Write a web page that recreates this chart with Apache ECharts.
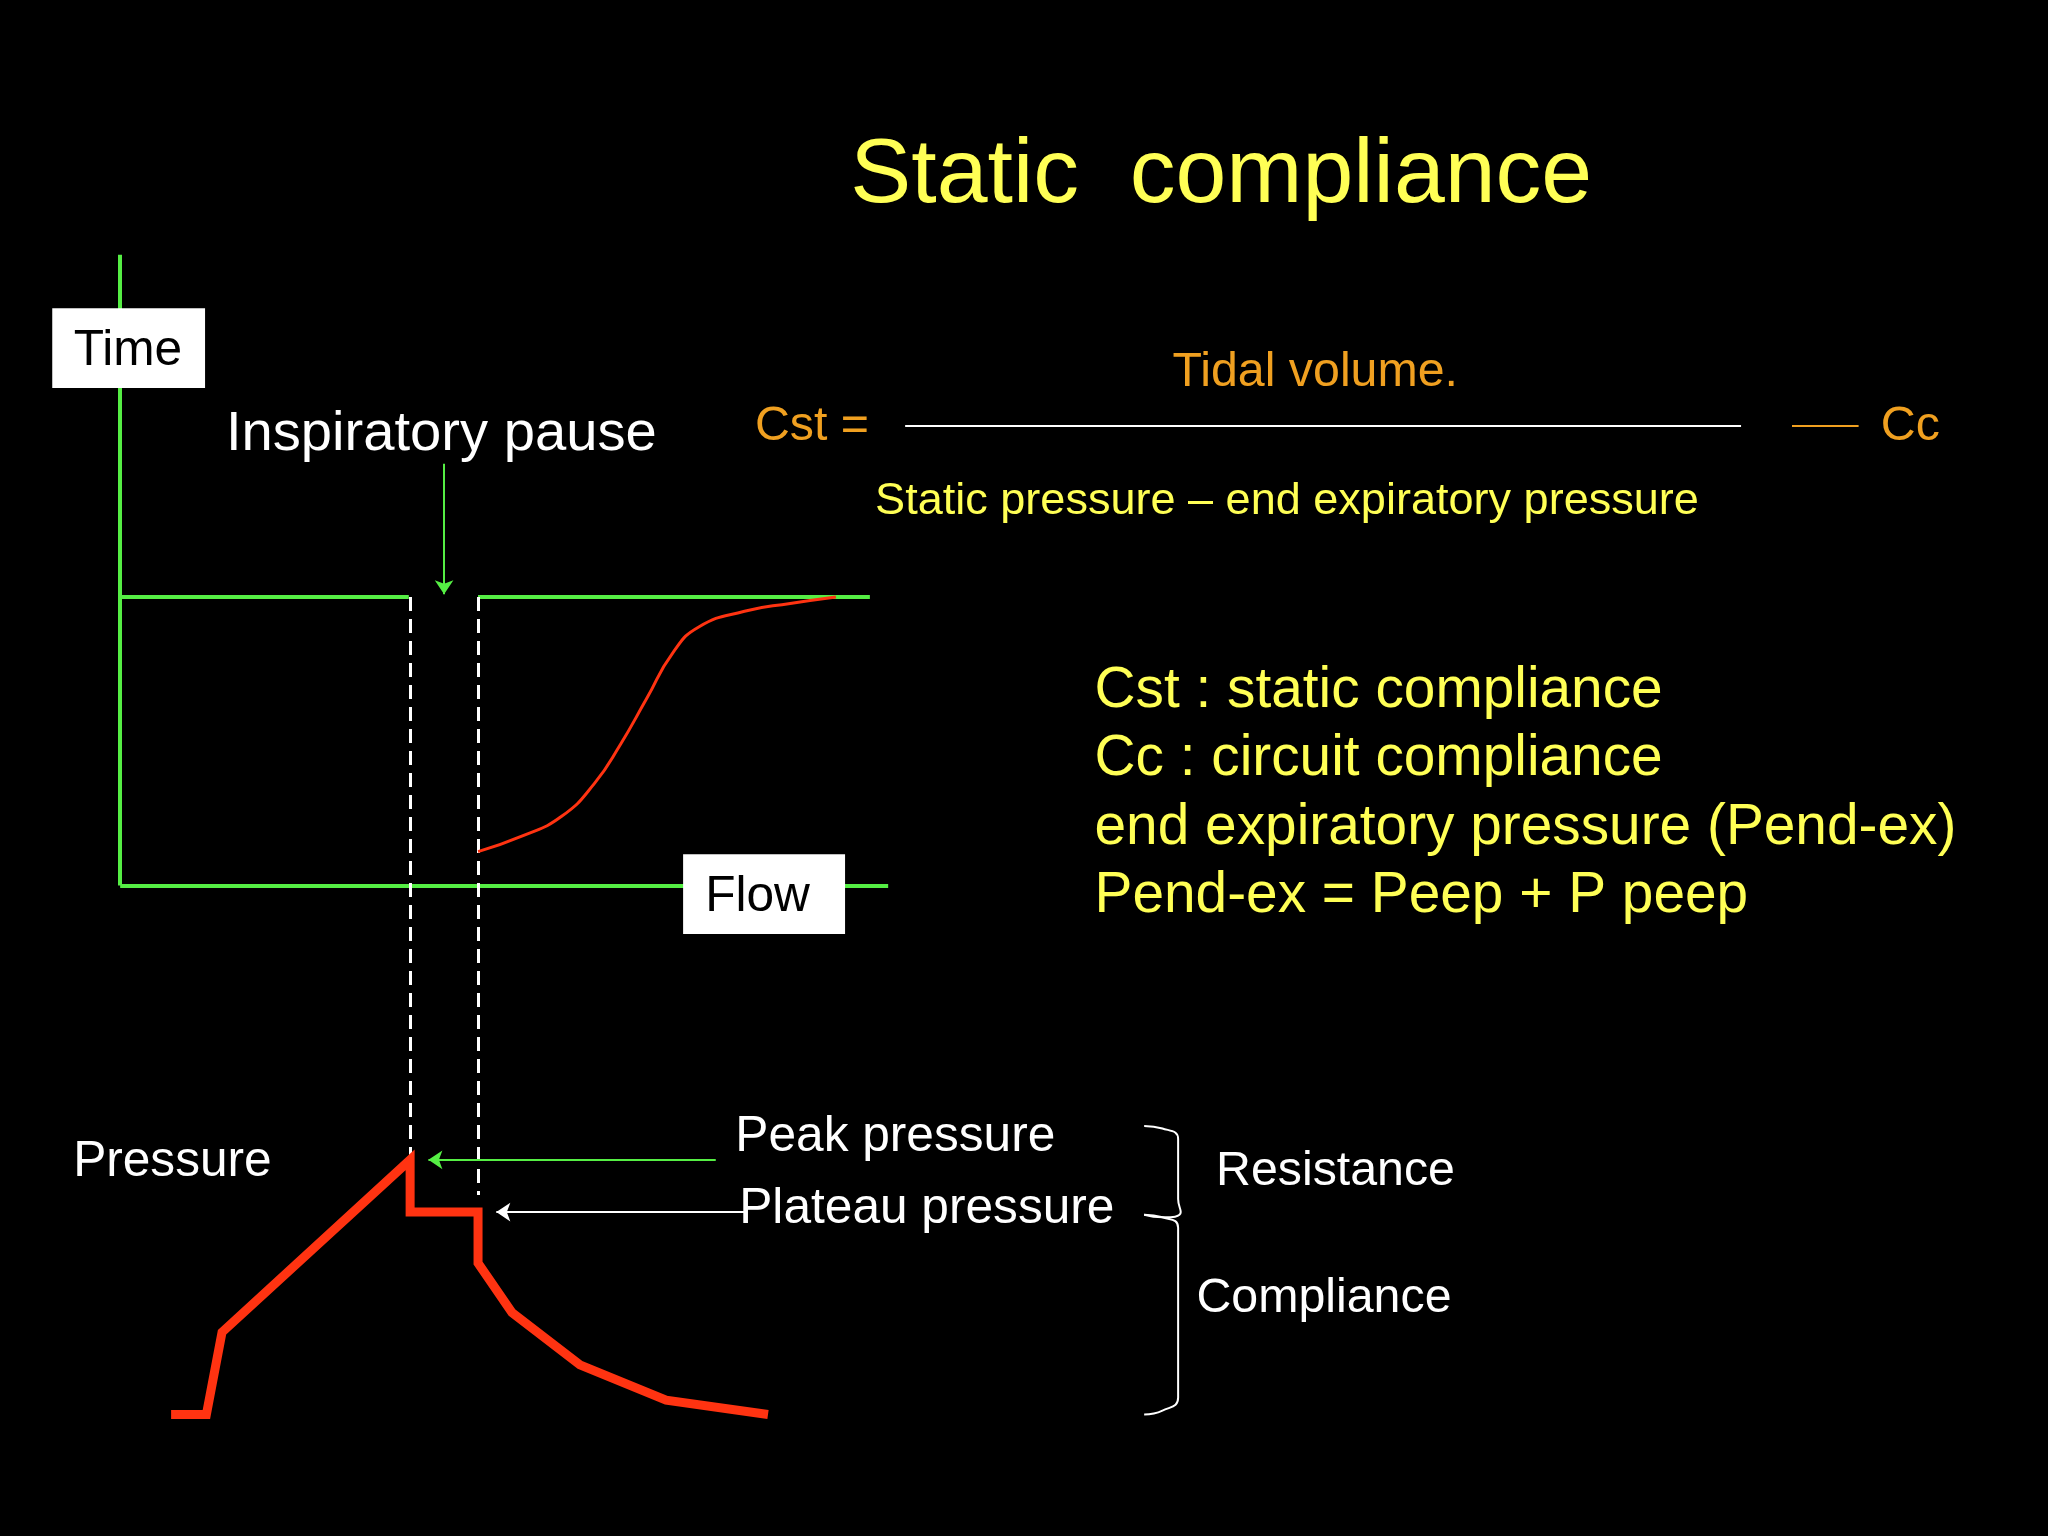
<!DOCTYPE html><html><head><meta charset="utf-8">
<script src="https://cdn.jsdelivr.net/npm/echarts@6/dist/echarts.min.js"></script>
<style>html,body{margin:0;background:#000}#c{width:2048px;height:1536px}</style></head><body><div id="c"></div>
<script>
// Diagram coordinates in reference units (1568 x 1176 space)
const pressureCurve=[[131,1083],[158,1083],[170,1020],[314,888],[314,928],[366,928],[366,967],[392,1005],[444,1045],[510,1072],[588,1083]];
const flowCurve=[[366,652],[400,640],[430,625],[455,600],[475,570],[495,535],[515,500],[535,480],[570,468],[605,462],[640,457]];
const greenAxes=[[[92,195],[92,678]],[[92,678],[680,678]],[[92,457],[313,457]],[[366,457],[666,457]]];
const dashedLines=[[[314,457],[314,886]],[[366,457],[366,915]]];
const braceTop=[[876,862],[890,864],[902,872],[902,918],[904,928],[890,932],[876,930]];
const braceBottom=[[876,930],[890,932],[902,940],[902,1070],[890,1080],[876,1083]];
const K=2048/1568;
const S=v=>v*K;
const ch=echarts.init(document.getElementById('c'));
function txt(x,y,s,size,color,align){return {type:'text',z:100,x:S(x),y:S(y),style:{text:s,fill:color,font:`${S(size)}px Arial, "Liberation Sans"`,textAlign:align||'left',textVerticalAlign:'middle'}};}
const Y='#ffff55',O='#f0a020',W='#ffffff';
ch.setOption({
 backgroundColor:'#000',animation:false,
 grid:{left:0,right:0,top:0,bottom:0},
 xAxis:{type:'value',min:0,max:1568,show:false},
 yAxis:{type:'value',min:0,max:1176,inverse:true,show:false},
 series:[
  {type:'lines',coordinateSystem:'cartesian2d',lineStyle:{color:'#55ee44',width:4,opacity:1},data:greenAxes.map(c=>({coords:c}))},
  {type:'lines',coordinateSystem:'cartesian2d',lineStyle:{color:'#fff',width:3,type:[14,8],opacity:1},data:dashedLines.map(c=>({coords:c}))},
  {type:'lines',coordinateSystem:'cartesian2d',symbol:['none','arrow'],symbolSize:14,lineStyle:{color:'#55ee44',width:2,opacity:1},data:[{coords:[[340,355],[340,455]]},{coords:[[548,888],[328,888]]}]},
  {type:'lines',coordinateSystem:'cartesian2d',symbol:['none','arrow'],symbolSize:14,lineStyle:{color:'#fff',width:2,opacity:1},data:[{coords:[[570,928],[380,928]]}]},
  {type:'lines',coordinateSystem:'cartesian2d',lineStyle:{color:'#fff',width:2,opacity:1},data:[{coords:[[693,326],[1333,326]]}]},
  {type:'lines',coordinateSystem:'cartesian2d',lineStyle:{color:O,width:2,opacity:1},data:[{coords:[[1372,326],[1423,326]]}]},
  {type:'line',data:flowCurve,smooth:true,symbol:'none',lineStyle:{color:'#ff3311',width:3}},
  {type:'line',data:pressureCurve,symbol:'none',lineStyle:{color:'#ff3311',width:9,join:'miter'}},
  {type:'line',data:braceTop,smooth:true,symbol:'none',lineStyle:{color:'#fff',width:2}},
  {type:'line',data:braceBottom,smooth:true,symbol:'none',lineStyle:{color:'#fff',width:2}}
 ],
 graphic:[
  {type:'rect',z:90,shape:{x:S(40),y:S(236),width:S(117),height:S(61)},style:{fill:'#fff'}},
  {type:'rect',z:90,shape:{x:S(523),y:S(654),width:S(124),height:S(61)},style:{fill:'#fff'}},
  txt(935,135,'Static  compliance',70,Y,'center'),
  txt(98,269,'Time',38,'#000','center'),
  txt(580,687,'Flow',38,'#000','center'),
  txt(173,333,'Inspiratory pause',43,W),
  txt(56,890,'Pressure',38,W),
  txt(563,871,'Peak pressure',38,W),
  txt(566,926,'Plateau pressure',38,W),
  txt(931,897,'Resistance',37,W),
  txt(916,994,'Compliance',37,W),
  txt(578,327,'Cst =',37,O),
  txt(1007,285,'Tidal volume.',37,O,'center'),
  txt(670,384,'Static pressure – end expiratory pressure',34.5,Y),
  txt(1440,327,'Cc',37,O),
  txt(838,529,'Cst : static compliance',43.5,Y),
  txt(838,581,'Cc : circuit compliance',43.5,Y),
  txt(838,634,'end expiratory pressure (Pend-ex)',43.5,Y),
  txt(838,686,'Pend-ex = Peep + P peep',43.5,Y)
 ]
});
</script></body></html>
